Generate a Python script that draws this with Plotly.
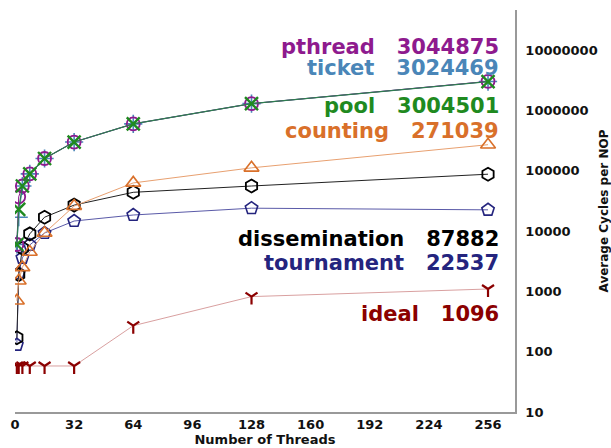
import plotly.graph_objects as go

threads = [1, 2, 4, 8, 16, 32, 64, 128, 256]

pthread = [6000, 37000, 56000, 89000, 160000, 300000, 600000, 1300000, 3044875]
ticket = [6000, 17000, 56000, 89000, 160000, 300000, 600000, 1300000, 3024469]
pool = [6000, 23000, 56000, 89000, 160000, 300000, 600000, 1300000, 3004501]
counting = [700, 1500, 2500, 4500, 9300, 26000, 63000, 112000, 271039]
dissemination = [170, 1900, 5200, 9000, 17000, 27000, 44000, 56000, 87882]
tournament = [130, 2000, 3600, 5900, 9300, 14700, 18500, 24000, 22537]
ideal = [58, 58, 58, 58, 58, 58, 270, 820, 1096]

x_ticks = [0, 32, 64, 96, 128, 160, 192, 224, 256]
y_ticks = [10, 100, 1000, 10000, 100000, 1000000, 10000000]
y_tick_labels = ["10", "100", "1000", "10000", "100000", "1000000", "10000000"]

# (name, values, final label, text color, line color, line width, symbol, size, marker width, label y (log10))
series = [
    ("ideal", ideal, "1096", "#8b0000", "#d9a0a0", 1, "y-down-open", 10, 2.2, 2.62),
    ("tournament", tournament, "22537", "#24247e", "#5a5aa8", 1, "pentagon-open", 13, 1.6, 3.47),
    ("dissemination", dissemination, "87882", "#000000", "#222222", 1, "hexagon-open", 13, 1.8, 3.87),
    ("counting", counting, "271039", "#d9702a", "#e8a070", 1, "triangle-up-open", 13, 1.6, 5.66),
    ("ticket", ticket, "3024469", "#4a86b8", "#4a86b8", 1, "cross-thin-open", 13, 1.6, 6.71),
    ("pthread", pthread, "3044875", "#8e1a8e", "#8e1a8e", 1, "circle-open", 13, 1.8, 7.06),
    ("pool", pool, "3004501", "#1f8a1f", "#2e7d4f", 1.2, "x-thin-open", 13, 2.4, 6.07),
]

fig = go.Figure()
for name, vals, lab, tcol, lcol, lw, sym, msize, mw, ly in series:
    fig.add_trace(go.Scatter(
        x=threads, y=vals, mode="lines+markers", name=name,
        line=dict(color=lcol, width=lw),
        marker=dict(symbol=sym, size=msize, color=tcol, line=dict(color=tcol, width=mw)),
        showlegend=False,
    ))
    fig.add_annotation(
        x=263, y=ly, xref="x", yref="y",
        text=name + "\u00a0\u00a0\u00a0" + lab,
        showarrow=False, xanchor="right", yanchor="middle",
        font=dict(family="DejaVu Sans", size=21, color=tcol, weight="bold"),
    )

fig.update_layout(
    width=611, height=448,
    margin=dict(l=15, r=96, t=10, b=36),
    paper_bgcolor="white", plot_bgcolor="white",
    font=dict(family="DejaVu Sans", color="#111111"),
)
fig.update_xaxes(
    range=[0, 270.6], tickvals=x_ticks, ticktext=[str(v) for v in x_ticks],
    showgrid=False, zeroline=False, showline=True, linecolor="#999999", linewidth=1.5,
    ticks="", automargin=False, tickfont=dict(size=13, weight="bold", family="DejaVu Sans"),
    title=dict(text="Number of Threads", font=dict(size=13, weight="bold", family="DejaVu Sans"), standoff=2),
)
fig.update_yaxes(
    type="log", range=[1, 7.667], side="right",
    tickvals=y_ticks, ticktext=y_tick_labels,
    showgrid=False, zeroline=False, showline=True, linecolor="#999999", linewidth=1.5,
    ticks="", automargin=False, ticklabelstandoff=6, tickfont=dict(size=13, weight="bold", family="DejaVu Sans"),
    title=dict(text="Average Cycles per NOP", font=dict(size=12, weight="bold", family="DejaVu Sans"), standoff=4),
)

fig.write_html("out.html")
